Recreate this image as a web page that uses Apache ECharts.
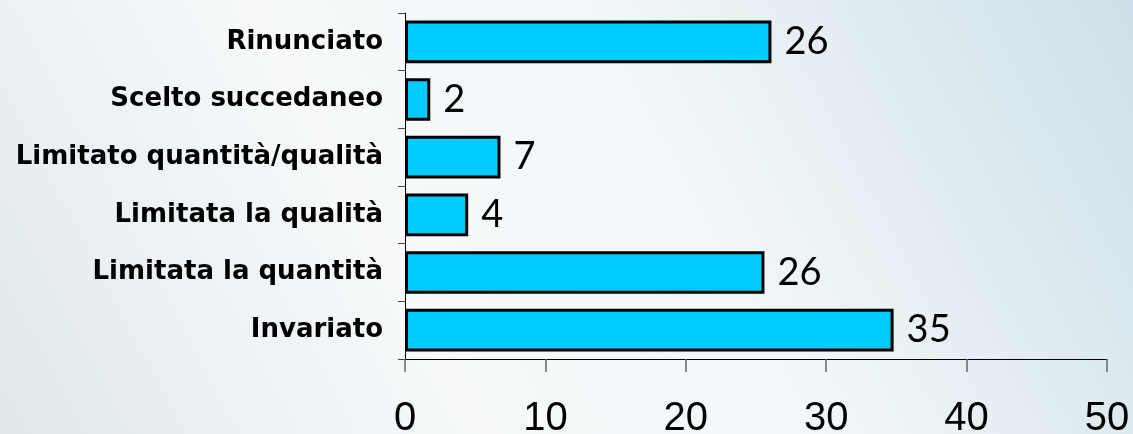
<!DOCTYPE html>
<html>
<head>
<meta charset="utf-8">
<script src="https://cdn.jsdelivr.net/npm/echarts@6/dist/echarts.min.js"></script>
<style>
  html, body { margin: 0; padding: 0; }
  body {
    width: 1133px; height: 434px;
    background: linear-gradient(62deg, #e0e8ec 0%, #f7f9fa 35%, #f3f7f9 60%, #cde0e9 100%);
  }
  #chart { width: 1133px; height: 434px; }
</style>
</head>
<body>
<div id="chart"></div>
<script>
// categorie dal basso verso l'alto
var categorie = ['Invariato', 'Limitata la quantità', 'Limitata la qualità', 'Limitato quantità/qualità', 'Scelto succedaneo', 'Rinunciato'];
// lunghezza delle barre
var valori = [34.8, 25.6, 4.5, 6.8, 1.8, 26.1];
// numeri scritti accanto alle barre
var etichette = ['35', '26', '4', '7', '2', '26'];
var tickX = [0, 10, 20, 30, 40, 50];

var myChart = echarts.init(document.getElementById('chart'));

var option = {
    backgroundColor: 'transparent',
    animation: false,
    grid: {
        left: 405,
        right: 26,
        top: 13,
        bottom: 75,
        containLabel: false,
        outerBoundsMode: 'none'
    },
    xAxis: {
        type: 'value',
        min: tickX[0],
        max: tickX[tickX.length - 1],
        interval: 10,
        splitLine: { show: false },
        axisLine: { show: true, lineStyle: { color: '#000', width: 1 } },
        axisTick: { show: true, length: 13, lineStyle: { color: '#666', width: 1.5 } },
        axisLabel: {
            color: '#000',
            fontSize: 40,
            fontFamily: 'Liberation Sans, Arial, sans-serif',
            margin: 40
        }
    },
    yAxis: {
        type: 'category',
        data: categorie,
        axisLine: { show: true, lineStyle: { color: '#000', width: 1 } },
        axisTick: { show: true, length: 7, lineStyle: { color: '#444' } },
        axisLabel: {
            color: '#000',
            fontSize: 26,
            fontWeight: 'bold',
            fontFamily: 'DejaVu Sans, sans-serif',
            margin: 22
        }
    },
    series: [{
        type: 'bar',
        data: valori,
        barCategoryGap: '26%',
        itemStyle: {
            color: '#00CCFF',
            borderColor: '#000',
            borderWidth: 3
        },
        label: {
            show: true,
            position: 'right',
            distance: 13,
            color: '#000',
            fontSize: 38,
            fontFamily: 'Lato, sans-serif',
            formatter: function (p) { return etichette[p.dataIndex]; }
        }
    }]
};

myChart.setOption(option);
</script>
</body>
</html>
